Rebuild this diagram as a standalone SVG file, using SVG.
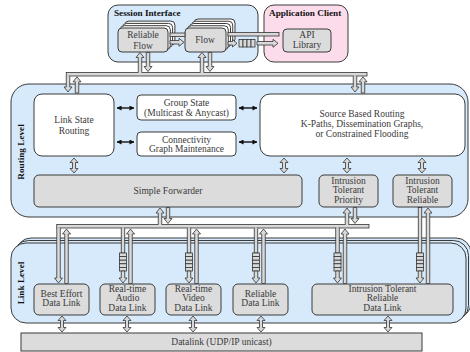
<svg xmlns="http://www.w3.org/2000/svg" xmlns:xlink="http://www.w3.org/1999/xlink" width="470" height="352" viewBox="0 0 470 352">
<style>
.blue{fill:#d6eafb;stroke:#3a3a3a;stroke-width:1}
.pink{fill:#fcdcea;stroke:#3a3a3a;stroke-width:1}
.box{fill:#dcdcdc;stroke:#3a3a3a;stroke-width:1}
.wbox{fill:#ffffff;stroke:#3a3a3a;stroke-width:1}
.ar{fill:#d9d9d9;stroke:#333;stroke-width:0.8}
.er{fill:#d9d9d9;stroke:none}
.blk{stroke:#111;stroke-width:1.4;fill:none}
.t{font-family:"Liberation Serif","Times New Roman",serif;font-size:9.5px;fill:#3a3a3a;text-anchor:middle}
.b{font-family:"Liberation Serif","Times New Roman",serif;font-size:9.2px;font-weight:bold;fill:#111}
</style>
<defs>
<marker id="ah" viewBox="0 0 6 6" markerWidth="5" markerHeight="5" refX="5.5" refY="3" orient="auto-start-reverse" markerUnits="userSpaceOnUse"><path d="M0,0 L6,3 L0,6 z" fill="#111"/></marker>
<g id="vq"><rect x="-3.5" y="0" width="7" height="3.6" class="ar"/><rect x="-3.5" y="3.6" width="7" height="3.6" class="ar"/><rect x="-3.5" y="7.2" width="7" height="3.6" class="ar"/><rect x="-3.5" y="10.8" width="7" height="3.6" class="ar"/><rect x="-3.5" y="14.4" width="7" height="3.6" class="ar"/></g>
</defs>

<g id="session-interface">
<rect x="108" y="5" width="150" height="57" rx="10" class="blue"/>
<text x="114" y="16" class="b">Session Interface</text>
</g>
<g id="application-client">
<rect x="264" y="5" width="84" height="57" rx="10" class="pink"/>
<text x="269" y="16" class="b">Application Client</text>
</g>
<g id="api-library">
<rect x="283" y="29" width="48" height="23" rx="4" class="box"/>
<text x="307" y="38" class="t">API</text>
<text x="307" y="48" class="t">Library</text>
</g>
<g id="reliable-flow">
<rect x="124.9" y="21.1" width="50" height="24" rx="4" class="wbox"/>
<rect x="122.6" y="23.4" width="50" height="24" rx="4" class="wbox"/>
<rect x="120.3" y="25.7" width="50" height="24" rx="4" class="wbox"/>
<rect x="118" y="28" width="50" height="24" rx="4" class="box"/>
<text x="143" y="38" class="t">Reliable</text>
<text x="143" y="48.5" class="t">Flow</text>
</g>
<g id="flow">
<rect x="194" y="19" width="41" height="24" rx="4" class="wbox"/>
<rect x="191.75" y="21.25" width="41" height="24" rx="4" class="wbox"/>
<rect x="189.5" y="23.5" width="41" height="24" rx="4" class="wbox"/>
<rect x="187.25" y="25.75" width="41" height="24" rx="4" class="wbox"/>
<rect x="185" y="28" width="41" height="24" rx="4" class="box"/>
<text x="205" y="43" class="t">Flow</text>
</g>

<g id="routing-level">
<rect x="11" y="84" width="457" height="133" rx="18" class="blue"/>
<text transform="translate(24,152) rotate(-90)" class="b" text-anchor="middle">Routing Level</text>
</g>
<g id="link-state-routing">
<rect x="34" y="94" width="80" height="62" rx="8" class="wbox"/>
<text x="74" y="123" class="t">Link State</text>
<text x="74" y="134" class="t">Routing</text>
</g>
<g id="group-state">
<rect x="137" y="95" width="99" height="25" rx="4" class="wbox"/>
<text x="186.5" y="105.5" class="t">Group State</text>
<text x="186.5" y="115.5" class="t">(Multicast &amp; Anycast)</text>
</g>
<g id="connectivity">
<rect x="137" y="132" width="99" height="24" rx="4" class="wbox"/>
<text x="186.5" y="142.5" class="t">Connectivity</text>
<text x="186.5" y="152" class="t">Graph Maintenance</text>
</g>
<g id="source-based-routing">
<rect x="260" y="94" width="205" height="62" rx="10" class="wbox"/>
<text x="362" y="116.5" class="t">Source Based Routing</text>
<text x="362" y="126.5" class="t">K-Paths, Dissemination Graphs,</text>
<text x="362" y="137" class="t">or Constrained Flooding</text>
</g>
<g id="simple-forwarder">
<rect x="34" y="175" width="268" height="32" rx="5" class="box"/>
<text x="168" y="194" class="t">Simple Forwarder</text>
</g>
<g id="it-priority">
<rect x="319" y="175" width="59" height="32" rx="5" class="box"/>
<text x="348.5" y="183.5" class="t">Intrusion</text>
<text x="348.5" y="193" class="t">Tolerant</text>
<text x="348.5" y="202.5" class="t">Priority</text>
</g>
<g id="it-reliable">
<rect x="393" y="175" width="59" height="32" rx="5" class="box"/>
<text x="422.5" y="183.5" class="t">Intrusion</text>
<text x="422.5" y="193" class="t">Tolerant</text>
<text x="422.5" y="202.5" class="t">Reliable</text>
</g>

<g id="link-level">
<rect x="16" y="238" width="455" height="80" rx="15" class="blue"/>
<rect x="13.5" y="240.5" width="455" height="80" rx="15" class="blue"/>
<rect x="11" y="243" width="455" height="80" rx="15" class="blue"/>
<text transform="translate(24,283) rotate(-90)" class="b" text-anchor="middle">Link Level</text>
</g>
<g id="best-effort">
<rect x="34" y="284" width="55" height="31" rx="5" class="box"/>
<text x="61.5" y="296.5" class="t">Best Effort</text>
<text x="61.5" y="306" class="t">Data Link</text>
</g>
<g id="rt-audio">
<rect x="100" y="284" width="55" height="31" rx="5" class="box"/>
<text x="127.5" y="292" class="t">Real-time</text>
<text x="127.5" y="301" class="t">Audio</text>
<text x="127.5" y="310.5" class="t">Data Link</text>
</g>
<g id="rt-video">
<rect x="166" y="284" width="55" height="31" rx="5" class="box"/>
<text x="193.5" y="292" class="t">Real-time</text>
<text x="193.5" y="301" class="t">Video</text>
<text x="193.5" y="310.5" class="t">Data Link</text>
</g>
<g id="reliable-dl">
<rect x="233" y="284" width="55" height="31" rx="5" class="box"/>
<text x="260.5" y="296.5" class="t">Reliable</text>
<text x="260.5" y="306" class="t">Data Link</text>
</g>
<g id="it-reliable-dl">
<rect x="312" y="284" width="141" height="31" rx="5" class="box"/>
<text x="382.5" y="292" class="t">Intrusion Tolerant</text>
<text x="382.5" y="301" class="t">Reliable</text>
<text x="382.5" y="310.5" class="t">Data Link</text>
</g>
<g id="datalink">
<rect x="21" y="333" width="401" height="18" class="box"/>
<text x="221.5" y="345" class="t">Datalink (UDP/IP unicast)</text>
</g>

<g id="connectors">
<rect x="170" y="33" width="15" height="3.5" class="ar"/>
<polygon points="170,40.5 179,40.5 179,38.3 184,42.3 179,46.3 179,44 170,44" class="ar"/>
<rect x="228" y="32.5" width="51" height="3.5" class="ar"/>
<polygon points="228,41.5 232.5,41.5 232.5,39.5 237,43.3 232.5,47 232.5,45 228,45" class="ar"/>
<rect x="239" y="39.5" width="4" height="7.5" class="ar"/>
<rect x="243" y="39.5" width="4" height="7.5" class="ar"/>
<rect x="247" y="39.5" width="4" height="7.5" class="ar"/>
<rect x="251" y="39.5" width="4" height="7.5" class="ar"/>
<polygon points="257,41.5 273,41.5 273,39.3 278,43.3 273,47.3 273,45 257,45" class="ar"/>

<rect x="66.25" y="72.5" width="300.75" height="3.5" class="ar"/>
<polygon points="140,52.5 144,57.5 141.75,57.5 141.75,72.5 138.25,72.5 138.25,57.5 136,57.5" class="ar"/>
<polygon points="146.25,52.5 149.75,52.5 149.75,66.5 152,66.5 148,71.5 144,66.5 146.25,66.5" class="ar"/>
<polygon points="202,52.5 206,57.5 203.75,57.5 203.75,72.5 200.25,72.5 200.25,57.5 198,57.5" class="ar"/>
<polygon points="208.25,52.5 211.75,52.5 211.75,66.5 214,66.5 210,71.5 206,66.5 208.25,66.5" class="ar"/>
<rect x="138.6" y="71.8" width="2.8" height="1.5" class="er"/>
<rect x="200.6" y="71.8" width="2.8" height="1.5" class="er"/>
<polygon points="66.25,76 69.75,76 69.75,87 72,87 68,92 64,87 66.25,87" class="ar"/>
<rect x="66.6" y="75.2" width="2.8" height="1.5" class="er"/>
<polygon points="77,76.8 81,81.8 78.75,81.8 78.75,93 75.25,93 75.25,81.8 73,81.8" class="ar"/>
<polygon points="353.25,76 356.75,76 356.75,87 359,87 355,92 351,87 353.25,87" class="ar"/>
<rect x="353.6" y="75.2" width="2.8" height="1.5" class="er"/>
<polygon points="363,76.8 367,81.8 364.75,81.8 364.75,93 361.25,93 361.25,81.8 359,81.8" class="ar"/>

<line x1="117" y1="108" x2="134" y2="108" class="blk" marker-start="url(#ah)" marker-end="url(#ah)"/>
<line x1="117" y1="142" x2="134" y2="142" class="blk" marker-start="url(#ah)" marker-end="url(#ah)"/>
<line x1="239" y1="108" x2="257" y2="108" class="blk" marker-start="url(#ah)" marker-end="url(#ah)"/>
<line x1="239" y1="142" x2="257" y2="142" class="blk" marker-start="url(#ah)" marker-end="url(#ah)"/>
<polygon points="74,158 78,162.5 75.5,162.5 75.5,168.5 78,168.5 74,173 70,168.5 72.5,168.5 72.5,162.5 70,162.5" class="ar"/>
<polygon points="284,158 288,162.5 285.5,162.5 285.5,168.5 288,168.5 284,173 280,168.5 282.5,168.5 282.5,162.5 280,162.5" class="ar"/>
<polygon points="347,158 351,162.5 348.5,162.5 348.5,168.5 351,168.5 347,173 343,168.5 345.5,168.5 345.5,162.5 343,162.5" class="ar"/>
<polygon points="422,158 426,162.5 423.5,162.5 423.5,168.5 426,168.5 422,173 418,168.5 420.5,168.5 420.5,162.5 418,162.5" class="ar"/>

<rect x="56.75" y="224.5" width="312.25" height="3.5" class="ar"/>
<polygon points="160,208 164,213 161.75,213 161.75,224.5 158.25,224.5 158.25,213 156,213" class="ar"/>
<polygon points="166.25,207.5 169.75,207.5 169.75,218.5 172,218.5 168,223.5 164,218.5 166.25,218.5" class="ar"/>
<polygon points="347,208 351,213 348.75,213 348.75,224.5 345.25,224.5 345.25,213 343,213" class="ar"/>
<polygon points="353.25,207.5 356.75,207.5 356.75,218.5 359,218.5 355,223.5 351,218.5 353.25,218.5" class="ar"/>
<rect x="158.6" y="223.8" width="2.8" height="1.5" class="er"/>
<rect x="345.6" y="223.8" width="2.8" height="1.5" class="er"/>

<polygon points="56.75,228 60.25,228 60.25,278 62.5,278 58.5,283 54.5,278 56.75,278" class="ar"/>
<polygon points="66.5,229 70.5,234 68.25,234 68.25,283.5 64.75,283.5 64.75,234 62.5,234" class="ar"/>
<rect x="121.25" y="228" width="3.5" height="25" class="ar"/>
<use xlink:href="#vq" x="123" y="253"/>
<polygon points="121.25,271 124.75,271 124.75,278 127,278 123,283 119,278 121.25,278" class="ar"/>
<polygon points="130.5,229 134.5,234 132.25,234 132.25,283.5 128.75,283.5 128.75,234 126.5,234" class="ar"/>
<rect x="187.25" y="228" width="3.5" height="25" class="ar"/>
<use xlink:href="#vq" x="189" y="253"/>
<polygon points="187.25,271 190.75,271 190.75,278 193,278 189,283 185,278 187.25,278" class="ar"/>
<polygon points="196.5,229 200.5,234 198.25,234 198.25,283.5 194.75,283.5 194.75,234 192.5,234" class="ar"/>
<rect x="254.25" y="228" width="3.5" height="25" class="ar"/>
<use xlink:href="#vq" x="256" y="253"/>
<polygon points="254.25,271 257.75,271 257.75,278 260,278 256,283 252,278 254.25,278" class="ar"/>
<polygon points="263.5,229 267.5,234 265.25,234 265.25,283.5 261.75,283.5 261.75,234 259.5,234" class="ar"/>
<rect x="335.75" y="228" width="3.5" height="25" class="ar"/>
<use xlink:href="#vq" x="337.5" y="253"/>
<polygon points="335.75,271 339.25,271 339.25,278 341.5,278 337.5,283 333.5,278 335.75,278" class="ar"/>
<polygon points="345,229 349,234 346.75,234 346.75,283.5 343.25,283.5 343.25,234 341,234" class="ar"/>
<rect x="418.25" y="207.5" width="3.5" height="45.5" class="ar"/>
<use xlink:href="#vq" x="420" y="253"/>
<polygon points="418.25,271 421.75,271 421.75,278 424,278 420,283 416,278 418.25,278" class="ar"/>
<polygon points="428,208 432,213 429.75,213 429.75,283.5 426.25,283.5 426.25,213 424,213" class="ar"/>
<rect x="57.1" y="227.3" width="2.8" height="1.5" class="er"/>
<rect x="121.6" y="227.3" width="2.8" height="1.5" class="er"/>
<rect x="187.6" y="227.3" width="2.8" height="1.5" class="er"/>
<rect x="254.6" y="227.3" width="2.8" height="1.5" class="er"/>
<rect x="336.1" y="227.3" width="2.8" height="1.5" class="er"/>

<polygon points="62,316 66,320.5 63.5,320.5 63.5,327.5 66,327.5 62,332 58,327.5 60.5,327.5 60.5,320.5 58,320.5" class="ar"/>
<polygon points="127,316 131,320.5 128.5,320.5 128.5,327.5 131,327.5 127,332 123,327.5 125.5,327.5 125.5,320.5 123,320.5" class="ar"/>
<polygon points="193,316 197,320.5 194.5,320.5 194.5,327.5 197,327.5 193,332 189,327.5 191.5,327.5 191.5,320.5 189,320.5" class="ar"/>
<polygon points="261,316 265,320.5 262.5,320.5 262.5,327.5 265,327.5 261,332 257,327.5 259.5,327.5 259.5,320.5 257,320.5" class="ar"/>
<polygon points="388,316 392,320.5 389.5,320.5 389.5,327.5 392,327.5 388,332 384,327.5 386.5,327.5 386.5,320.5 384,320.5" class="ar"/>
</g>
</svg>
